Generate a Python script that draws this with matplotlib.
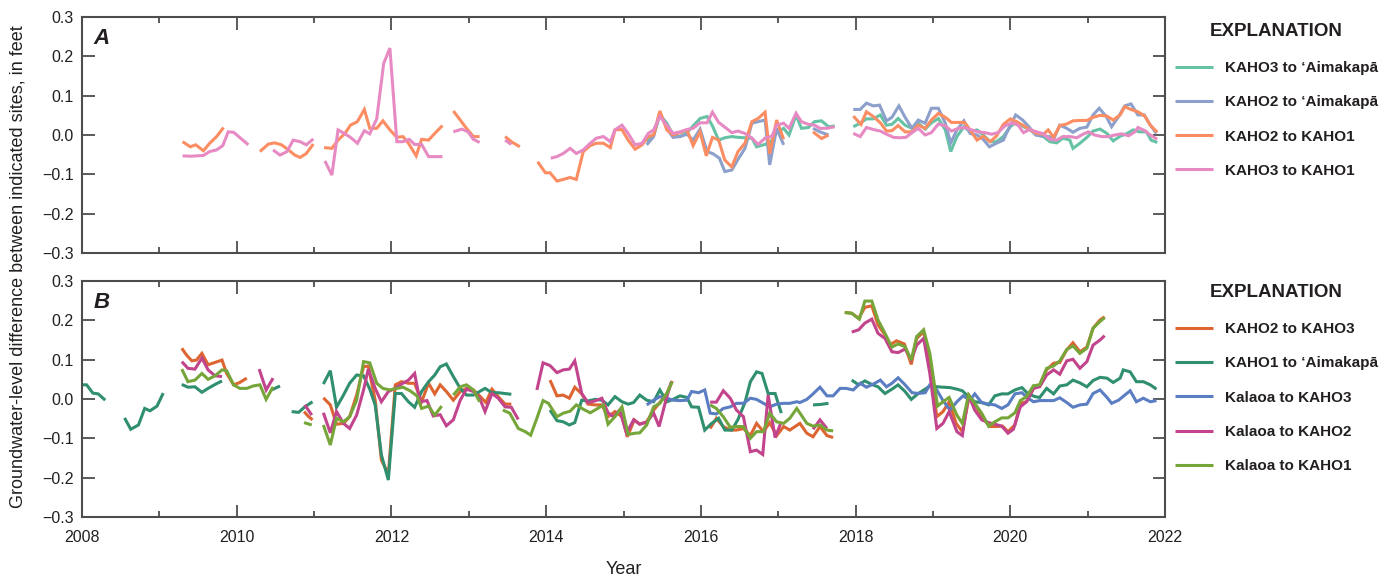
import numpy as np
import matplotlib
matplotlib.use("Agg")
import matplotlib.pyplot as plt
from matplotlib.ticker import MultipleLocator, FuncFormatter
from matplotlib import font_manager

nan = float("nan")

# ---------------- Panel A data ----------------
A_K3_AIM_X = [2015.30, 2015.39, 2015.47, 2015.56, 2015.64, 2015.73, 2015.82, 2015.90, 2015.99, 2016.08,
              2016.15, 2016.23, 2016.31, 2016.40, 2016.48, 2016.57, 2016.66, 2016.72, 2016.81, 2016.89,
              2016.98, 2017.07, 2017.14, 2017.23, 2017.30, 2017.39, 2017.47, 2017.56, 2017.65, 2017.73, nan,
              2017.97, 2018.06, 2018.14, 2018.23, 2018.32, 2018.40, 2018.47, 2018.55, 2018.64, 2018.73,
              2018.81, 2018.90, 2018.98, 2019.07, 2019.16, 2019.23, 2019.31, 2019.40, 2019.48, 2019.57,
              2019.65, 2019.74, 2019.82, 2019.91, 2020.00, 2020.08, 2020.17, 2020.25, 2020.34, 2020.43,
              2020.51, 2020.60, 2020.68, 2020.77, 2020.81, 2020.90, 2020.99, 2021.07, 2021.16, 2021.25,
              2021.33, 2021.42, 2021.50, 2021.59, 2021.67, 2021.76, 2021.82, 2021.90]
A_K3_AIM_Y = [-0.017, 0.0, 0.051, 0.030, 0.0, -0.004, 0.006, 0.023, 0.042, 0.047,
              0.023, -0.013, -0.007, -0.004, -0.006, -0.007, -0.008, -0.030, -0.025, -0.021,
              0.006, 0.017, 0.0, 0.051, 0.017, 0.019, 0.034, 0.036, 0.021, 0.023, nan,
              0.021, 0.030, 0.041, 0.041, 0.051, 0.025, 0.027, 0.042, 0.025, 0.017,
              0.030, 0.015, 0.031, 0.042, 0.013, -0.042, -0.004, 0.021, 0.008, 0.013,
              0.0, -0.017, -0.017, -0.004, 0.021, 0.034, 0.021, 0.014, 0.0, -0.004,
              -0.017, -0.020, -0.008, -0.013, -0.034, -0.021, -0.006, 0.010, 0.015, 0.004,
              -0.015, -0.003, 0.003, 0.013, 0.008, 0.008, -0.013, -0.019]

A_K2_AIM_X = [2015.30, 2015.39, 2015.47, 2015.56, 2015.64, 2015.73, 2015.82, 2015.90, 2015.99, 2016.08,
              2016.16, 2016.24, 2016.31, 2016.40, 2016.48, 2016.57, 2016.66, 2016.74, 2016.83, 2016.89,
              2016.98, 2017.07, nan, 2017.45, 2017.54, 2017.65, nan,
              2017.97, 2018.06, 2018.14, 2018.23, 2018.31, 2018.40, 2018.47, 2018.56, 2018.64, 2018.73,
              2018.81, 2018.90, 2018.98, 2019.07, 2019.16, 2019.23, 2019.31, 2019.40, 2019.48, 2019.57,
              2019.65, 2019.73, 2019.82, 2019.91, 2020.00, 2020.07, 2020.16, 2020.24, 2020.33, 2020.42,
              2020.50, 2020.56, 2020.64, 2020.73, 2020.81, 2020.90, 2020.99, 2021.07, 2021.15, 2021.24,
              2021.31, 2021.40, 2021.48, 2021.56, 2021.65, 2021.73, 2021.81, 2021.89]
A_K2_AIM_Y = [-0.025, -0.004, 0.059, 0.017, -0.006, -0.004, 0.002, -0.013, 0.015, -0.042,
              -0.048, -0.059, -0.093, -0.089, -0.062, -0.034, 0.030, 0.034, 0.038, -0.076,
              0.017, -0.025, nan, 0.017, 0.008, 0.0, nan,
              0.065, 0.065, 0.081, 0.074, 0.076, 0.036, 0.045, 0.074, 0.045, 0.017,
              0.038, 0.030, 0.068, 0.068, 0.030, -0.020, 0.013, 0.036, 0.004, 0.0,
              -0.011, -0.030, -0.021, -0.013, 0.025, 0.051, 0.038, 0.021, 0.0, -0.003,
              -0.004, -0.011, 0.025, 0.017, 0.007, 0.017, 0.020, 0.051, 0.068, 0.047,
              0.021, 0.047, 0.074, 0.079, 0.051, 0.051, 0.025, 0.004]

A_K2_K1_X = [2009.30, 2009.40, 2009.47, 2009.57, 2009.65, 2009.74, 2009.83, nan,
             2010.30, 2010.41, 2010.49, 2010.58, 2010.67, 2010.75, 2010.82, 2010.90, 2010.99, nan,
             2011.13, 2011.23, 2011.31, 2011.40, 2011.47, 2011.56, 2011.65, 2011.72, 2011.81, 2011.89,
             2011.98, 2012.07, 2012.15, 2012.22, 2012.32, 2012.39, 2012.48, 2012.56, 2012.66, nan,
             2012.80, 2012.89, 2012.97, 2013.06, 2013.14, nan,
             2013.47, 2013.55, 2013.66, nan,
             2013.89, 2013.99, 2014.05, 2014.14, 2014.22, 2014.31, 2014.39, 2014.48, 2014.57, 2014.65,
             2014.74, 2014.83, 2014.89, 2014.98, 2015.06, 2015.15, 2015.24, 2015.32, 2015.39, 2015.47,
             2015.56, 2015.64, 2015.73, 2015.82, 2015.90, 2015.99, 2016.07, 2016.15, 2016.23, 2016.31,
             2016.40, 2016.48, 2016.57, 2016.66, 2016.74, 2016.83, 2016.89, 2016.98, 2017.07, nan,
             2017.45, 2017.56, 2017.65, nan,
             2017.97, 2018.07, 2018.14, 2018.23, 2018.32, 2018.40, 2018.47, 2018.55, 2018.64, 2018.73,
             2018.81, 2018.90, 2018.98, 2019.07, 2019.16, 2019.24, 2019.33, 2019.41, 2019.48, 2019.57,
             2019.65, 2019.74, 2019.82, 2019.91, 2020.00, 2020.08, 2020.17, 2020.25, 2020.34, 2020.43,
             2020.49, 2020.56, 2020.64, 2020.73, 2020.81, 2020.90, 2020.99, 2021.07, 2021.16, 2021.25,
             2021.33, 2021.42, 2021.48, 2021.57, 2021.65, 2021.74, 2021.81, 2021.90]
A_K2_K1_Y = [-0.017, -0.030, -0.025, -0.040, -0.021, -0.004, 0.019, nan,
             -0.042, -0.023, -0.020, -0.025, -0.038, -0.051, -0.057, -0.047, -0.023, nan,
             -0.032, -0.034, -0.013, 0.004, 0.025, 0.034, 0.065, 0.017, 0.017, 0.036,
             0.013, -0.006, -0.004, -0.021, -0.053, -0.011, -0.013, 0.004, 0.024, nan,
             0.061, 0.038, 0.017, -0.004, -0.004, nan,
             -0.004, -0.017, -0.030, nan,
             -0.068, -0.096, -0.096, -0.117, -0.113, -0.108, -0.113, -0.042, -0.027, -0.021,
             -0.021, -0.032, 0.013, 0.014, -0.013, -0.036, -0.025, -0.004, 0.0, 0.061,
             0.013, 0.0, 0.006, 0.013, -0.027, 0.008, -0.053, -0.006, -0.013, -0.064,
             -0.081, -0.042, -0.021, 0.034, 0.042, 0.058, -0.048, 0.038, -0.011, nan,
             0.008, -0.009, 0.0, nan,
             0.048, 0.027, 0.059, 0.047, 0.031, 0.010, 0.011, 0.024, 0.008, 0.008,
             0.025, 0.017, 0.038, 0.055, 0.045, 0.032, 0.032, 0.032, 0.013, -0.013,
             -0.003, -0.017, -0.003, 0.027, 0.041, 0.034, 0.024, 0.014, 0.004, 0.002,
             0.013, -0.006, 0.024, 0.028, 0.036, 0.037, 0.037, 0.045, 0.050, 0.048,
             0.038, 0.051, 0.072, 0.064, 0.059, 0.048, 0.025, 0.007]

A_K3_K1_X = [2009.30, 2009.40, 2009.48, 2009.57, 2009.65, 2009.74, 2009.82, 2009.89, 2009.96, 2010.02,
             2010.09, 2010.15, nan,
             2010.47, 2010.56, 2010.65, 2010.73, 2010.82, 2010.90, 2010.99, nan,
             2011.14, 2011.23, 2011.31, 2011.40, 2011.47, 2011.56, 2011.65, 2011.72, 2011.81, 2011.90,
             2011.98, 2012.07, 2012.15, 2012.23, 2012.30, 2012.39, 2012.48, 2012.56, 2012.66, nan,
             2012.80, 2012.91, 2012.99, 2013.06, 2013.14, nan,
             2013.47, 2013.55, nan,
             2014.06, 2014.14, 2014.22, 2014.31, 2014.39, 2014.48, 2014.57, 2014.65, 2014.74, 2014.83,
             2014.89, 2014.98, 2015.06, 2015.15, 2015.24, 2015.32, 2015.39, 2015.47, 2015.56, 2015.64,
             2015.73, 2015.82, 2015.90, 2015.99, 2016.08, 2016.15, 2016.23, 2016.31, 2016.40, 2016.48,
             2016.57, 2016.66, 2016.74, 2016.83, 2016.92, 2016.98, 2017.07, 2017.14, 2017.23, 2017.30,
             2017.39, 2017.47, 2017.54, 2017.63, 2017.73, nan,
             2017.97, 2018.06, 2018.14, 2018.23, 2018.32, 2018.40, 2018.49, 2018.57, 2018.65, 2018.73,
             2018.81, 2018.90, 2018.98, 2019.07, 2019.16, 2019.24, 2019.33, 2019.41, 2019.50, 2019.59,
             2019.67, 2019.76, 2019.84, 2019.93, 2020.02, 2020.10, 2020.17, 2020.25, 2020.34, 2020.43,
             2020.51, 2020.60, 2020.68, 2020.77, 2020.86, 2020.94, 2021.01, 2021.09, 2021.18, 2021.27,
             2021.35, 2021.44, 2021.53, 2021.61, 2021.65, 2021.74, 2021.81, 2021.90]
A_K3_K1_Y = [-0.053, -0.054, -0.053, -0.052, -0.042, -0.038, -0.027, 0.008, 0.007, -0.003,
             -0.015, -0.025, nan,
             -0.038, -0.051, -0.042, -0.013, -0.017, -0.025, -0.010, nan,
             -0.066, -0.102, 0.013, 0.003, -0.006, -0.021, 0.011, 0.003, 0.041, 0.182,
             0.221, -0.017, -0.017, -0.011, -0.024, -0.024, -0.055, -0.055, -0.055, nan,
             0.008, 0.015, 0.008, -0.011, -0.019, nan,
             -0.013, -0.024, nan,
             -0.059, -0.055, -0.047, -0.034, -0.047, -0.038, -0.021, -0.008, -0.004, -0.017,
             0.013, 0.025, 0.004, -0.025, -0.021, 0.004, 0.013, 0.047, 0.025, 0.004,
             0.008, 0.014, 0.017, 0.031, 0.031, 0.058, 0.032, 0.020, 0.006, 0.010,
             0.004, -0.008, -0.024, -0.008, -0.003, 0.025, 0.030, 0.017, 0.055, 0.034,
             0.027, 0.025, 0.017, 0.017, 0.021, nan,
             0.004, -0.004, 0.019, 0.014, 0.010, 0.002, -0.006, -0.007, -0.006, 0.006,
             0.017, 0.0, 0.006, 0.028, 0.023, 0.010, 0.017, 0.019, 0.013, 0.008,
             0.006, 0.002, 0.006, 0.023, 0.031, 0.025, 0.006, 0.014, 0.008, 0.003,
             -0.011, -0.013, -0.004, -0.004, -0.007, 0.002, 0.008, 0.0, -0.004, -0.004,
             0.0, 0.003, -0.002, 0.008, 0.019, 0.011, 0.0, -0.011]

# ---------------- Panel B data ----------------
B_K2_K3_X = [2009.29, 2009.35, 2009.42, 2009.48, 2009.55, 2009.63, 2009.72, 2009.81, 2009.87, 2009.96,
             2010.04, 2010.13, nan,
             2010.87, 2010.93, 2010.98, nan,
             2011.12, 2011.21, 2011.29, 2011.38, 2011.46, 2011.55, 2011.64, 2011.70, 2011.79, 2011.87,
             2011.96, 2012.05, 2012.13, 2012.22, 2012.30, 2012.39, 2012.48, 2012.56, 2012.63, 2012.71,
             2012.80, 2012.89, 2012.97, 2013.06, 2013.14, 2013.22, 2013.30, 2013.38, 2013.47, 2013.55, nan,
             2014.05, 2014.14, 2014.22, 2014.30, 2014.37, 2014.46, 2014.54, 2014.63, 2014.72, 2014.80,
             2014.89, 2014.98, 2015.05, 2015.14, 2015.21, 2015.30, 2015.39, 2015.47, 2015.56, 2015.63, nan,
             2016.12, 2016.20, 2016.29, 2016.38, 2016.46, 2016.55, 2016.64, 2016.72, 2016.81, 2016.89,
             2016.98, 2017.07, 2017.15, 2017.28, 2017.37, 2017.45, 2017.54, 2017.63, 2017.71, nan,
             2017.86, 2017.95, 2018.04, 2018.12, 2018.21, 2018.29, 2018.38, 2018.44, 2018.53, 2018.63,
             2018.72, 2018.79, 2018.88, 2018.96, 2019.05, 2019.13, 2019.21, 2019.30, 2019.38, 2019.47,
             2019.56, 2019.64, 2019.73, 2019.81, 2019.90, 2019.97, 2020.06, 2020.13, 2020.21, 2020.30,
             2020.38, 2020.47, 2020.56, 2020.64, 2020.73, 2020.81, 2020.90, 2020.99, 2021.07, 2021.16,
             2021.22]
B_K2_K3_Y = [0.129, 0.112, 0.097, 0.099, 0.116, 0.087, 0.093, 0.099, 0.065, 0.036,
             0.042, 0.053, nan,
             -0.032, -0.045, -0.053, nan,
             0.003, -0.015, -0.064, -0.062, -0.045, 0.010, 0.082, 0.084, -0.003, -0.155,
             -0.191, 0.036, 0.044, 0.040, 0.040, -0.007, 0.040, 0.013, 0.036, 0.019,
             -0.003, 0.019, 0.027, 0.023, 0.008, -0.009, 0.025, 0.006, -0.013, -0.013, nan,
             0.048, 0.008, 0.010, 0.002, 0.030, 0.013, -0.013, -0.015, -0.015, -0.045,
             -0.032, -0.045, -0.096, -0.053, -0.064, -0.058, -0.028, -0.009, 0.014, 0.046, nan,
             -0.075, -0.049, -0.070, -0.079, -0.079, -0.075, -0.093, -0.062, -0.083, -0.060,
             -0.093, -0.070, -0.079, -0.062, -0.087, -0.096, -0.070, -0.093, -0.098, nan,
             0.220, 0.218, 0.205, 0.233, 0.237, 0.188, 0.163, 0.137, 0.148, 0.140,
             0.088, 0.154, 0.171, 0.082, -0.045, -0.032, -0.007, -0.062, -0.083, 0.008,
             -0.020, -0.045, -0.070, -0.070, -0.069, -0.083, -0.066, -0.011, -0.007, 0.027,
             0.036, 0.074, 0.091, 0.093, 0.125, 0.143, 0.120, 0.132, 0.180, 0.201,
             0.209]

B_K1_AIM_X = [2008.00, 2008.06, 2008.14, 2008.21, 2008.30, nan,
              2008.55, 2008.63, 2008.73, 2008.81, 2008.88, 2008.97, 2009.05, nan,
              2009.29, 2009.37, 2009.46, 2009.55, 2009.63, 2009.72, 2009.81, nan,
              2010.45, 2010.56, nan,
              2010.71, 2010.80, 2010.88, 2010.98, nan,
              2011.12, 2011.21, 2011.29, 2011.38, 2011.46, 2011.55, 2011.64, 2011.72, 2011.79, 2011.87,
              2011.96, 2012.05, 2012.13, 2012.22, 2012.30, 2012.39, 2012.48, 2012.56, 2012.63, 2012.71,
              2012.80, 2012.89, 2012.97, 2013.06, 2013.14, 2013.21, 2013.30, 2013.38, 2013.47, 2013.55, nan,
              2014.05, 2014.14, 2014.22, 2014.30, 2014.37, 2014.46, 2014.54, 2014.63, 2014.72, 2014.80,
              2014.89, 2014.98, 2015.06, 2015.13, 2015.21, 2015.30, 2015.39, 2015.47, 2015.56, 2015.64,
              2015.73, 2015.82, 2015.88, 2015.97, 2016.05, 2016.14, 2016.23, 2016.31, 2016.40, 2016.48,
              2016.57, 2016.64, 2016.72, 2016.79, 2016.87, 2016.96, 2017.04, nan,
              2017.45, 2017.54, 2017.65, nan,
              2017.95, 2018.04, 2018.12, 2018.21, 2018.29, 2018.38, 2018.47, 2018.55, 2018.64, 2018.72,
              2018.81, 2018.90, 2018.98, 2019.05, 2019.13, 2019.22, 2019.31, 2019.38, 2019.46, 2019.54,
              2019.63, 2019.72, 2019.80, 2019.89, 2019.97, 2020.06, 2020.15, 2020.23, 2020.32, 2020.38,
              2020.47, 2020.56, 2020.64, 2020.73, 2020.81, 2020.90, 2020.99, 2021.07, 2021.16, 2021.25,
              2021.33, 2021.42, 2021.46, 2021.55, 2021.63, 2021.72, 2021.81, 2021.89]
B_K1_AIM_Y = [0.036, 0.036, 0.015, 0.013, -0.003, nan,
              -0.048, -0.077, -0.066, -0.024, -0.030, -0.018, 0.015, nan,
              0.037, 0.030, 0.031, 0.017, 0.027, 0.037, 0.046, nan,
              0.023, 0.033, nan,
              -0.032, -0.034, -0.020, -0.007, nan,
              0.038, 0.072, -0.021, 0.010, 0.040, 0.061, 0.059, 0.025, -0.015, -0.142,
              -0.206, 0.014, 0.014, -0.007, -0.021, 0.019, 0.044, 0.061, 0.082, 0.089,
              0.057, 0.027, 0.010, 0.010, 0.019, 0.027, 0.016, 0.016, 0.014, 0.012, nan,
              -0.028, -0.055, -0.058, -0.066, -0.060, -0.003, -0.005, -0.001, -0.003, -0.015,
              0.006, -0.007, -0.013, -0.009, 0.010, -0.003, -0.007, 0.023, -0.007, -0.001,
              0.008, 0.004, -0.020, -0.021, -0.079, -0.062, -0.049, -0.079, -0.079, -0.052,
              -0.009, 0.044, 0.069, 0.065, 0.014, 0.014, -0.036, nan,
              -0.015, -0.014, -0.011, nan,
              0.048, 0.036, 0.046, 0.037, 0.031, 0.014, 0.025, 0.036, 0.019, -0.001,
              0.014, 0.025, 0.036, 0.031, 0.030, 0.029, 0.025, 0.021, 0.006, -0.007,
              -0.009, -0.015, 0.008, 0.013, 0.013, 0.023, 0.029, 0.013, 0.006, 0.004,
              0.027, 0.013, 0.033, 0.036, 0.048, 0.041, 0.031, 0.047, 0.055, 0.053,
              0.042, 0.053, 0.074, 0.069, 0.044, 0.044, 0.036, 0.025]

B_KAL_K3_X = [2015.30, 2015.39, 2015.47, 2015.56, 2015.64, 2015.73, 2015.82, 2015.88, 2015.97, 2016.05,
              2016.12, 2016.20, 2016.29, 2016.38, 2016.46, 2016.55, 2016.64, 2016.72, 2016.81, 2016.89,
              2016.98, 2017.07, 2017.15, 2017.24, 2017.28, 2017.37, 2017.45, 2017.54, 2017.63, 2017.71,
              2017.80, 2017.88, 2017.97, 2018.06, 2018.14, 2018.23, 2018.32, 2018.40, 2018.47, 2018.55,
              2018.64, 2018.73, 2018.81, 2018.90, 2018.96, 2019.05, 2019.13, 2019.22, 2019.31, 2019.39,
              2019.48, 2019.54, 2019.63, 2019.72, 2019.80, 2019.89, 2019.97, 2020.06, 2020.15, 2020.23,
              2020.30, 2020.38, 2020.47, 2020.56, 2020.64, 2020.73, 2020.81, 2020.90, 2020.99, 2021.07,
              2021.16, 2021.25, 2021.31, 2021.40, 2021.48, 2021.55, 2021.63, 2021.72, 2021.81, 2021.89]
B_KAL_K3_Y = [-0.015, -0.003, 0.006, 0.002, -0.003, -0.004, -0.003, 0.019, 0.016, 0.023,
              -0.036, -0.038, -0.024, -0.020, -0.011, -0.011, 0.002, -0.001, -0.011, -0.020,
              -0.013, -0.011, -0.011, -0.007, -0.009, -0.001, 0.013, 0.030, 0.008, 0.008,
              0.027, 0.027, 0.023, 0.040, 0.030, 0.038, 0.048, 0.031, 0.040, 0.054,
              0.036, 0.016, 0.014, 0.016, 0.036, 0.023, -0.004, -0.028, -0.007, 0.008,
              -0.003, 0.013, -0.009, -0.013, -0.015, -0.024, -0.015, 0.013, 0.016, 0.002,
              -0.007, -0.004, -0.004, -0.004, 0.003, -0.009, -0.021, -0.015, -0.013, 0.014,
              0.023, 0.004, -0.011, -0.003, 0.010, 0.021, -0.007, 0.002, -0.007, -0.004]

B_KAL_K2_X = [2009.29, 2009.37, 2009.46, 2009.55, 2009.63, 2009.72, 2009.81, nan,
              2010.29, 2010.38, 2010.47, nan,
              2010.88, 2010.97, nan,
              2011.12, 2011.21, 2011.29, 2011.38, 2011.46, 2011.55, 2011.64, 2011.70, 2011.79, 2011.87,
              2011.96, 2012.05, 2012.13, 2012.22, 2012.30, 2012.37, 2012.46, 2012.54, 2012.63, 2012.71,
              2012.80, 2012.89, 2012.97, 2013.06, 2013.14, 2013.21, 2013.30, 2013.38, 2013.47, 2013.55,
              2013.64, nan,
              2013.88, 2013.96, 2014.05, 2014.14, 2014.22, 2014.30, 2014.37, 2014.46, 2014.54, 2014.63,
              2014.72, 2014.80, 2014.87, 2014.95, 2015.04, 2015.13, 2015.21, 2015.30, 2015.39, 2015.46,
              2015.56, 2015.62, nan,
              2016.12, 2016.20, 2016.29, 2016.38, 2016.46, 2016.55, 2016.64, 2016.72, 2016.80, 2016.87,
              2016.96, 2017.04, nan,
              2017.45, 2017.54, 2017.63, nan,
              2017.95, 2018.04, 2018.12, 2018.21, 2018.29, 2018.38, 2018.47, 2018.55, 2018.64, 2018.72,
              2018.79, 2018.88, 2018.96, 2019.05, 2019.13, 2019.21, 2019.31, 2019.38, 2019.46, 2019.54,
              2019.63, 2019.72, 2019.80, 2019.89, 2019.97, 2020.04, 2020.13, 2020.21, 2020.30, 2020.38,
              2020.47, 2020.56, 2020.64, 2020.73, 2020.81, 2020.90, 2020.99, 2021.07, 2021.16, 2021.22]
B_KAL_K2_Y = [0.095, 0.078, 0.076, 0.104, 0.074, 0.059, 0.057, nan,
              0.076, 0.023, 0.053, nan,
              -0.015, -0.041, nan,
              -0.035, -0.086, -0.032, -0.062, -0.075, -0.041, 0.023, 0.076, 0.027, -0.007,
              0.019, 0.027, 0.038, 0.048, 0.065, -0.007, -0.004, -0.043, -0.040, -0.068,
              -0.053, -0.003, 0.025, 0.019, 0.002, -0.032, 0.014, 0.002, -0.020, -0.021,
              -0.052, nan,
              0.023, 0.092, 0.085, 0.067, 0.074, 0.076, 0.097, 0.014, -0.009, -0.005,
              0.002, -0.035, -0.045, -0.028, -0.087, -0.053, -0.064, -0.059, -0.036, -0.070,
              0.006, 0.044, nan,
              -0.008, -0.008, 0.021, 0.002, -0.028, -0.045, -0.134, -0.130, -0.141, 0.010,
              -0.098, -0.058, nan,
              -0.077, -0.053, -0.075, nan,
              0.170, 0.176, 0.193, 0.203, 0.167, 0.154, 0.120, 0.118, 0.127, 0.101,
              0.137, 0.154, 0.065, -0.075, -0.062, -0.032, -0.083, -0.093, 0.010, -0.028,
              -0.053, -0.060, -0.064, -0.069, -0.087, -0.077, -0.020, -0.007, 0.027, 0.031,
              0.061, 0.074, 0.063, 0.097, 0.101, 0.078, 0.095, 0.137, 0.150, 0.161]

B_KAL_K1_X = [2009.29, 2009.37, 2009.46, 2009.55, 2009.63, 2009.72, 2009.81, 2009.87, 2009.96, 2010.04,
              2010.13, 2010.21, 2010.30, 2010.38, 2010.47, nan,
              2010.87, 2010.97, nan,
              2011.12, 2011.21, 2011.29, 2011.38, 2011.46, 2011.55, 2011.64, 2011.72, 2011.81, 2011.89,
              2011.98, 2012.07, 2012.15, 2012.24, 2012.33, 2012.39, 2012.48, 2012.56, 2012.65, nan,
              2012.80, 2012.89, 2012.97, 2013.06, 2013.14, nan,
              2013.44, 2013.53, 2013.64, 2013.73, 2013.80, 2013.88,
              2013.96, 2014.03, 2014.14, 2014.22, 2014.31, 2014.39, 2014.48, 2014.57, 2014.65, 2014.74,
              2014.80, 2014.89, 2014.98, 2015.06, 2015.15, 2015.21, 2015.30, 2015.39, 2015.47, 2015.56,
              2015.63, nan,
              2016.12, 2016.20, 2016.29, 2016.38, 2016.46, 2016.55, 2016.64, 2016.72, 2016.81, 2016.89,
              2016.98, 2017.07, 2017.15, 2017.24, 2017.37, 2017.45, 2017.54, 2017.63, 2017.71, nan,
              2017.86, 2017.95, 2018.05, 2018.12, 2018.21, 2018.29, 2018.38, 2018.47, 2018.55, 2018.64,
              2018.72, 2018.79, 2018.88, 2018.96, 2019.06, 2019.13, 2019.21, 2019.31, 2019.38, 2019.46,
              2019.54, 2019.63, 2019.72, 2019.80, 2019.89, 2019.97, 2020.06, 2020.13, 2020.21, 2020.30,
              2020.38, 2020.47, 2020.56, 2020.64, 2020.73, 2020.81, 2020.90, 2020.99, 2021.07, 2021.16,
              2021.22]
B_KAL_K1_Y = [0.076, 0.044, 0.048, 0.065, 0.050, 0.059, 0.074, 0.072, 0.036, 0.027,
              0.027, 0.033, 0.036, -0.001, 0.031, nan,
              -0.060, -0.066, nan,
              -0.066, -0.117, -0.049, -0.058, -0.045, -0.003, 0.095, 0.092, 0.040, 0.027,
              0.023, 0.027, 0.030, 0.021, 0.008, -0.024, -0.018, -0.041, -0.018, nan,
              0.010, 0.031, 0.036, 0.023, -0.007, nan,
              -0.028, -0.036, -0.075, -0.083, -0.092, -0.049,
              -0.004, -0.011, -0.045, -0.036, -0.031, -0.015, -0.026, -0.035, -0.026, -0.015,
              -0.064, -0.045, -0.020, -0.090, -0.087, -0.086, -0.066, -0.020, -0.011, 0.014,
              0.044, nan,
              -0.015, -0.024, -0.045, -0.072, -0.070, -0.070, -0.100, -0.083, -0.083, -0.036,
              -0.058, -0.062, -0.049, -0.024, -0.062, -0.069, -0.066, -0.079, -0.081, nan,
              0.220, 0.218, 0.203, 0.249, 0.249, 0.201, 0.167, 0.132, 0.140, 0.133,
              0.099, 0.159, 0.176, 0.116, -0.018, -0.007, 0.004, -0.041, -0.062, 0.010,
              -0.011, -0.036, -0.069, -0.058, -0.048, -0.048, -0.035, -0.004, 0.006, 0.034,
              0.036, 0.078, 0.084, 0.097, 0.126, 0.135, 0.116, 0.129, 0.180, 0.197,
              0.207]

LABELS_A = ["KAHO3 to \u2018Aimakap\u0101", "KAHO2 to \u2018Aimakap\u0101", "KAHO2 to KAHO1", "KAHO3 to KAHO1"]
COLORS_A = ["#66c2a5", "#8da0cb", "#fc8d62", "#e78ac3"]
LABELS_B = ["KAHO2 to KAHO3", "KAHO1 to \u2018Aimakap\u0101", "Kalaoa to KAHO3", "Kalaoa to KAHO2", "Kalaoa to KAHO1"]
COLORS_B = ["#dd6531", "#2f8f6f", "#5b7dc2", "#c2448c", "#76a63a"]

YTICKS = [-0.3, -0.2, -0.1, 0.0, 0.1, 0.2, 0.3]
XMIN, XMAX = 2008, 2022

# ---------------- fonts ----------------
names = {f.name for f in font_manager.fontManager.ttflist}
NARROW = "Liberation Sans Narrow" if "Liberation Sans Narrow" in names else "Liberation Sans"
FAM = [NARROW, "DejaVu Sans"]
plt.rcParams["font.family"] = FAM

TXT = "#231f20"
SPINE = "#4d4d4d"

fig = plt.figure(figsize=(13.95, 5.78), dpi=100)
W, H = 1395.0, 578.0
axA = fig.add_axes([82 / W, 1 - 253 / H, (1165 - 82) / W, 236 / H])
axB = fig.add_axes([82 / W, 1 - 517 / H, (1165 - 82) / W, 236 / H])

seriesA = [(A_K3_AIM_X, A_K3_AIM_Y), (A_K2_AIM_X, A_K2_AIM_Y), (A_K2_K1_X, A_K2_K1_Y), (A_K3_K1_X, A_K3_K1_Y)]
seriesB = [(B_K2_K3_X, B_K2_K3_Y), (B_K1_AIM_X, B_K1_AIM_Y), (B_KAL_K3_X, B_KAL_K3_Y),
           (B_KAL_K2_X, B_KAL_K2_Y), (B_KAL_K1_X, B_KAL_K1_Y)]


def yfmt(v, pos):
    s = f"{v:.1f}"
    if s == "-0.0":
        s = "0.0"
    return s.replace("-", "\u2212")


for ax, series, labels, colors, letter in [(axA, seriesA, LABELS_A, COLORS_A, "A"),
                                           (axB, seriesB, LABELS_B, COLORS_B, "B")]:
    for (xs, ys), lab, col in zip(series, labels, colors):
        ax.plot(xs, ys, color=col, lw=2.2, label=lab, solid_joinstyle="miter", solid_capstyle="butt")
    ax.set_xlim(XMIN, XMAX)
    ax.set_ylim(-0.3, 0.3)
    ax.set_yticks(YTICKS)
    ax.yaxis.set_major_formatter(FuncFormatter(yfmt))
    ax.xaxis.set_major_locator(MultipleLocator(2))
    ax.xaxis.set_minor_locator(MultipleLocator(1))
    ax.tick_params(axis="both", which="major", direction="in", length=9, width=1.3, color=SPINE,
                   labelsize=11.5, labelcolor=TXT, top=True, right=True)
    ax.tick_params(axis="x", which="major", pad=9)
    ax.tick_params(axis="y", which="major", pad=6)
    ax.tick_params(axis="x", which="minor", direction="in", length=4.5, width=1.3, color=SPINE,
                   top=True, bottom=True)
    for sp in ax.spines.values():
        sp.set_color(SPINE)
        sp.set_linewidth(1.5)
    ax.text(0.011, 0.955, letter, transform=ax.transAxes, ha="left", va="top",
            fontsize=16, fontweight="bold", fontstyle="italic", color=TXT,
            family=["Liberation Sans", "DejaVu Sans"])
    leg = ax.legend(loc="upper left",
                    bbox_to_anchor=(1172 / W, (1 - 20 / H) if letter == "A" else (1 - 281 / H)),
                    bbox_transform=fig.transFigure, frameon=False, title="EXPLANATION",
                    prop={"family": FAM, "weight": "bold", "size": 11},
                    title_fontproperties={"family": FAM, "weight": "bold", "size": 13.5},
                    handlelength=2.5, handletextpad=0.75, labelspacing=1.33, borderpad=0.2,
                    borderaxespad=0)
    leg._legend_box.sep = 15
    for t in leg.get_texts():
        t.set_color(TXT)
    leg.get_title().set_color(TXT)

axA.tick_params(axis="x", labelbottom=False)
axB.set_xlabel("Year", fontsize=13, color=TXT, labelpad=12)
fig.text(18 / W, 1 - 267 / H, "Groundwater-level difference between indicated sites, in feet",
         rotation=90, ha="center", va="center", fontsize=13, color=TXT)

fig.savefig("out.png", dpi=100)
